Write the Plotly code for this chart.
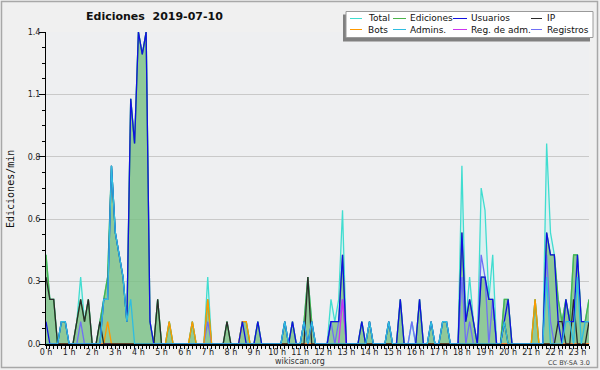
import plotly.graph_objects as go

# ---------------- data (edits per minute, 10-minute bins from 0:00) ----------------
hour_labels = ["0 h", "1 h", "2 h", "3 h", "4 h", "5 h", "6 h", "7 h", "8 h", "9 h", "10 h", "11 h",
               "12 h", "13 h", "14 h", "15 h", "16 h", "17 h", "18 h", "19 h", "20 h", "21 h", "22 h", "23 h"]
y_tick_values = [0.0, 0.28, 0.56, 0.84, 1.12, 1.4]
y_tick_labels = ["0.0", "0.3", "0.6", "0.8", "1.1", "1.4"]

total = [0.4, 0.2, 0.2, 0, 0.1, 0.1, 0, 0, 0.1, 0.3, 0.1, 0.2,
         0, 0, 0.1, 0.2, 0.3, 0.8, 0.5, 0.4, 0.3, 0.1, 1.1, 0.9,
         1.4, 1.3, 1.4, 0.1, 0, 0.2, 0, 0, 0.1, 0, 0, 0,
         0, 0, 0.1, 0, 0, 0, 0.3, 0, 0, 0, 0, 0.1,
         0, 0, 0, 0.1, 0.1, 0, 0, 0.1, 0, 0, 0, 0,
         0, 0, 0.1, 0, 0.1, 0, 0, 0.1, 0.3, 0.1, 0, 0,
         0, 0, 0.2, 0.1, 0.2, 0.6, 0, 0, 0, 0, 0.1, 0,
         0.1, 0, 0, 0, 0, 0.1, 0, 0, 0.2, 0, 0, 0.1,
         0, 0.2, 0, 0, 0.1, 0, 0, 0.1, 0.1, 0, 0, 0,
         0.8, 0.1, 0.3, 0.1, 0, 0.7, 0.6, 0.2, 0.4, 0, 0, 0.2,
         0.2, 0, 0, 0, 0, 0, 0, 0.2, 0, 0, 0.9, 0.5,
         0.4, 0.2, 0.1, 0.2, 0.1, 0.4, 0.4, 0.1, 0.1, 0.2]

ediciones = [0.4, 0.2, 0.2, 0, 0.1, 0.1, 0, 0, 0.1, 0.2, 0.1, 0.2,
             0, 0, 0.1, 0.2, 0.3, 0.8, 0.5, 0.4, 0.3, 0.1, 1.1, 0.9,
             1.4, 1.3, 1.4, 0.1, 0, 0.2, 0, 0, 0.1, 0, 0, 0,
             0, 0, 0.1, 0, 0, 0, 0.2, 0, 0, 0, 0, 0.1,
             0, 0, 0, 0.1, 0.1, 0, 0, 0.1, 0, 0, 0, 0,
             0, 0, 0.1, 0, 0.1, 0, 0, 0.1, 0.3, 0.1, 0, 0,
             0, 0, 0.1, 0.1, 0.1, 0.4, 0, 0, 0, 0, 0.1, 0,
             0.1, 0, 0, 0, 0, 0.1, 0, 0, 0.2, 0, 0, 0,
             0, 0.2, 0, 0, 0.1, 0, 0, 0.1, 0.1, 0, 0, 0,
             0.5, 0.1, 0.2, 0.1, 0, 0.3, 0.3, 0.2, 0.2, 0, 0, 0.2,
             0.2, 0, 0, 0, 0, 0, 0, 0.2, 0, 0, 0.5, 0.4,
             0.4, 0.2, 0.1, 0.2, 0.1, 0.4, 0.4, 0.1, 0.1, 0.2]

usuarios = [0.1, 0, 0, 0, 0.1, 0.1, 0, 0, 0, 0, 0, 0,
            0, 0, 0, 0.2, 0.2, 0.8, 0.5, 0.4, 0.3, 0.1, 1.1, 0.9,
            1.4, 1.3, 1.4, 0.1, 0, 0, 0, 0, 0, 0, 0, 0,
            0, 0, 0, 0, 0, 0, 0, 0, 0, 0, 0, 0,
            0, 0, 0, 0.1, 0, 0, 0, 0.1, 0, 0, 0, 0,
            0, 0, 0.1, 0, 0.1, 0, 0, 0.1, 0, 0.1, 0, 0,
            0, 0, 0.1, 0.1, 0.1, 0.4, 0, 0, 0, 0, 0.1, 0,
            0.1, 0, 0, 0, 0, 0.1, 0, 0, 0.2, 0, 0, 0,
            0, 0.2, 0, 0, 0.1, 0, 0, 0.1, 0.1, 0, 0, 0,
            0.5, 0.1, 0.2, 0.1, 0, 0.3, 0.3, 0.2, 0.2, 0, 0, 0.1,
            0.2, 0, 0, 0, 0, 0, 0, 0, 0, 0, 0.5, 0.4,
            0.4, 0.1, 0, 0.2, 0.1, 0.1, 0.4, 0.1, 0.1, 0.1]

ip = [0.3, 0.2, 0.2, 0, 0, 0, 0, 0, 0.1, 0.2, 0.1, 0.2,
      0, 0, 0.1, 0, 0, 0, 0, 0, 0, 0, 0, 0,
      0, 0, 0, 0, 0, 0.2, 0, 0, 0, 0, 0, 0,
      0, 0, 0, 0, 0, 0, 0, 0, 0, 0, 0, 0.1,
      0, 0, 0, 0, 0, 0, 0, 0, 0, 0, 0, 0,
      0, 0, 0, 0, 0, 0, 0, 0, 0.3, 0, 0, 0,
      0, 0, 0, 0, 0, 0, 0, 0, 0, 0, 0, 0,
      0, 0, 0, 0, 0, 0, 0, 0, 0, 0, 0, 0,
      0, 0, 0, 0, 0, 0, 0, 0, 0, 0, 0, 0,
      0, 0, 0, 0, 0, 0, 0, 0, 0, 0, 0, 0.1,
      0, 0, 0, 0, 0, 0, 0, 0, 0, 0, 0, 0,
      0, 0.1, 0.1, 0, 0, 0.2, 0, 0, 0, 0.1]

bots = [0, 0, 0, 0, 0, 0, 0, 0, 0, 0, 0, 0,
        0, 0, 0, 0, 0.1, 0, 0, 0, 0, 0, 0, 0,
        0, 0, 0, 0, 0, 0, 0, 0, 0.1, 0, 0, 0,
        0, 0, 0.1, 0, 0, 0, 0.2, 0, 0, 0, 0, 0,
        0, 0, 0, 0.1, 0.1, 0, 0, 0, 0, 0, 0, 0,
        0, 0, 0, 0, 0, 0, 0, 0, 0, 0, 0, 0,
        0, 0, 0, 0, 0, 0, 0, 0, 0, 0, 0, 0,
        0, 0, 0, 0, 0, 0, 0, 0, 0, 0, 0, 0,
        0, 0, 0, 0, 0, 0, 0, 0, 0, 0, 0, 0,
        0, 0, 0, 0, 0, 0, 0, 0, 0, 0, 0, 0,
        0, 0, 0, 0, 0, 0, 0, 0.2, 0, 0, 0, 0,
        0, 0, 0, 0, 0, 0, 0, 0, 0, 0]

admins = [0, 0, 0, 0, 0.1, 0.1, 0, 0, 0, 0, 0, 0,
          0, 0, 0, 0.2, 0.2, 0.8, 0.5, 0.4, 0.3, 0.1, 0.2, 0,
          0, 0, 0, 0, 0, 0, 0, 0, 0, 0, 0, 0,
          0, 0, 0, 0, 0, 0, 0, 0, 0, 0, 0, 0,
          0, 0, 0, 0, 0, 0, 0, 0, 0, 0, 0, 0,
          0, 0, 0.1, 0, 0, 0, 0, 0.1, 0, 0.1, 0, 0,
          0, 0, 0, 0, 0, 0, 0, 0, 0, 0, 0, 0,
          0.1, 0, 0, 0, 0, 0.1, 0, 0, 0, 0, 0, 0,
          0, 0, 0, 0, 0.1, 0, 0, 0.1, 0.1, 0, 0, 0,
          0, 0, 0, 0, 0, 0, 0, 0, 0, 0, 0, 0.1,
          0, 0, 0, 0, 0, 0, 0, 0, 0, 0, 0.3, 0,
          0, 0, 0, 0.1, 0.1, 0, 0.3, 0, 0.1, 0.1]

reg_adm = [0, 0, 0, 0, 0, 0, 0, 0, 0, 0, 0, 0,
           0, 0, 0, 0, 0, 0, 0, 0, 0, 0, 0, 0,
           0, 0, 0, 0, 0, 0, 0, 0, 0, 0, 0, 0,
           0, 0, 0, 0, 0, 0, 0, 0, 0, 0, 0, 0,
           0, 0, 0, 0, 0, 0, 0, 0, 0, 0, 0, 0,
           0, 0, 0, 0, 0, 0, 0, 0, 0, 0, 0, 0,
           0, 0, 0, 0, 0, 0.2, 0, 0, 0, 0, 0, 0,
           0, 0, 0, 0, 0, 0, 0, 0, 0, 0, 0, 0,
           0, 0, 0, 0, 0, 0, 0, 0, 0, 0, 0, 0,
           0, 0, 0, 0, 0, 0, 0, 0, 0, 0, 0, 0,
           0, 0, 0, 0, 0, 0, 0, 0, 0, 0, 0, 0,
           0, 0, 0, 0, 0, 0, 0, 0, 0, 0]

registros = [0, 0, 0, 0, 0, 0, 0, 0, 0, 0.1, 0, 0,
             0, 0, 0, 0, 0, 0, 0, 0, 0, 0, 0, 0,
             0, 0, 0, 0, 0, 0, 0, 0, 0, 0, 0, 0,
             0, 0, 0, 0, 0, 0, 0.1, 0, 0, 0, 0, 0,
             0, 0, 0, 0, 0, 0, 0, 0, 0, 0, 0, 0,
             0, 0, 0, 0, 0, 0, 0, 0, 0, 0, 0, 0,
             0, 0, 0.1, 0, 0.1, 0.2, 0, 0, 0, 0, 0, 0,
             0, 0, 0, 0, 0, 0, 0, 0, 0, 0, 0, 0.1,
             0, 0, 0, 0, 0, 0, 0, 0, 0, 0, 0, 0,
             0.3, 0, 0.1, 0, 0, 0.4, 0.3, 0, 0.2, 0, 0, 0,
             0, 0, 0, 0, 0, 0, 0, 0, 0, 0, 0.4, 0.1,
             0, 0, 0, 0, 0, 0, 0, 0, 0, 0]

series_names = ["Total", "Ediciones", "Usuarios", "IP", "Bots", "Admins.", "Reg. de adm.", "Registros"]

# ---------------- styling ----------------
W, H = 600, 370
ML, MR, MT, MB = 46, 11, 32, 26
PW = W - ML - MR
PH = H - MT - MB


def px(x):
    return (x - ML) / PW


def py(y):
    return (H - MB - y) / PH


colors = {
    "Total": "#40ddd0",
    "Ediciones": "#4cb44c",
    "Usuarios": "#1010e0",
    "IP": "#2a2a2a",
    "Bots": "#ff9900",
    "Admins.": "#2fbde0",
    "Reg. de adm.": "#cc33ee",
    "Registros": "#6f6ff5",
}

x = list(range(len(total)))
fig = go.Figure()

fig.add_trace(go.Scatter(x=x, y=total, mode="lines", fill="tozeroy",
                         fillcolor="rgba(205,240,240,0.55)",
                         line=dict(color=colors["Total"], width=1.3),
                         showlegend=False, hoverinfo="skip"))
fig.add_trace(go.Scatter(x=x, y=ediciones, mode="lines", fill="tozeroy",
                         fillcolor="rgba(80,170,80,0.55)",
                         line=dict(color=colors["Ediciones"], width=1.3),
                         showlegend=False, hoverinfo="skip"))
for name, vals in [("Registros", registros), ("Reg. de adm.", reg_adm), ("Bots", bots),
                   ("IP", ip), ("Usuarios", usuarios), ("Admins.", admins)]:
    fig.add_trace(go.Scatter(x=x, y=vals, mode="lines",
                             line=dict(color=colors[name], width=1.3),
                             showlegend=False, hoverinfo="skip"))

fig.update_layout(
    width=W, height=H,
    margin=dict(l=ML, r=MR, t=MT, b=MB),
    paper_bgcolor="#f0f0f0",
    plot_bgcolor="#eeeff1",
    showlegend=False,
    xaxis=dict(
        range=[0, len(total) - 1],
        tickmode="array",
        tickvals=[6 * i for i in range(len(hour_labels))],
        ticktext=hour_labels,
        ticks="outside", ticklen=3, tickwidth=1, tickcolor="#000",
        minor=dict(dtick=1, tick0=0, ticks="outside", ticklen=3, tickwidth=1, tickcolor="#000", showgrid=False),
        showgrid=False, zeroline=False,
        showline=True, linecolor="#000", linewidth=2,
        tickfont=dict(family="DejaVu Sans", size=8, color="#222"),
        ticklabelstandoff=-4,
        fixedrange=True,
    ),
    yaxis=dict(
        range=[0, 1.4],
        tickmode="array",
        tickvals=y_tick_values,
        ticktext=y_tick_labels,
        ticks="outside", ticklen=6, tickwidth=1, tickcolor="#000",
        minor=dict(dtick=0.07, tick0=0, ticks="outside", ticklen=3, tickwidth=1, tickcolor="#000", showgrid=False),
        showgrid=True, gridcolor="#c9c9c9", gridwidth=1,
        zeroline=False,
        showline=True, linecolor="#000", linewidth=1,
        tickfont=dict(family="DejaVu Sans", size=8, color="#222"),
        ticklabelstandoff=-3,
        fixedrange=True,
    ),
)

shapes = []
annotations = []

# outer frame
shapes.append(dict(type="rect", xref="paper", yref="paper",
                   x0=px(1.5), x1=px(597.5), y0=py(367.5), y1=py(1.5),
                   line=dict(color="#a8a8a8", width=1.5), layer="below"))

# title and texts
annotations.append(dict(text="<b>Ediciones\u00a0 2019-07-10</b>", x=px(154), y=py(17),
                        xref="paper", yref="paper", xanchor="center", yanchor="middle",
                        showarrow=False, font=dict(family="DejaVu Sans", size=11, color="#111")))
annotations.append(dict(text="Ediciones/min", x=px(10), y=py(189), textangle=-90,
                        xref="paper", yref="paper", xanchor="center", yanchor="middle",
                        showarrow=False, font=dict(family="DejaVu Sans Mono", size=10, color="#111")))
annotations.append(dict(text="wikiscan.org", x=px(300), y=py(361),
                        xref="paper", yref="paper", xanchor="center", yanchor="middle",
                        showarrow=False, font=dict(family="DejaVu Sans", size=8, color="#333")))
annotations.append(dict(text="CC BY-SA 3.0", x=px(569), y=py(362.5),
                        xref="paper", yref="paper", xanchor="center", yanchor="middle",
                        showarrow=False, font=dict(family="DejaVu Sans", size=6.5, color="#444")))

# legend box with shadow
shapes.append(dict(type="rect", xref="paper", yref="paper",
                   x0=px(343), x1=px(590), y0=py(41.5), y1=py(14.5),
                   fillcolor="#808080", line=dict(width=0), layer="above"))
shapes.append(dict(type="rect", xref="paper", yref="paper",
                   x0=px(346), x1=px(593), y0=py(37.5), y1=py(11.5),
                   fillcolor="#ffffff", line=dict(color="#9a9a9a", width=1), layer="above"))

sample_cols = [(350, 362, 366), (393, 406, 408), (453, 467, 469), (531, 542, 545)]
rows_y = [18.5, 29.5]
for k, name in enumerate(series_names):
    r, c = divmod(k, 4)
    x0, x1, tx = sample_cols[c]
    yy = rows_y[r]
    shapes.append(dict(type="line", xref="paper", yref="paper",
                       x0=px(x0), x1=px(x1), y0=py(yy), y1=py(yy),
                       line=dict(color=colors[name], width=1), layer="above"))
    annotations.append(dict(text=name, x=px(tx), y=py(yy), xref="paper", yref="paper",
                            xanchor="left", yanchor="middle", showarrow=False,
                            font=dict(family="DejaVu Sans", size=9, color="#111")))

fig.update_layout(shapes=shapes, annotations=annotations)

fig.write_html("out.html", config={"displayModeBar": False},
               post_script="document.body.style.margin='0px';document.body.style.overflow='hidden';")
